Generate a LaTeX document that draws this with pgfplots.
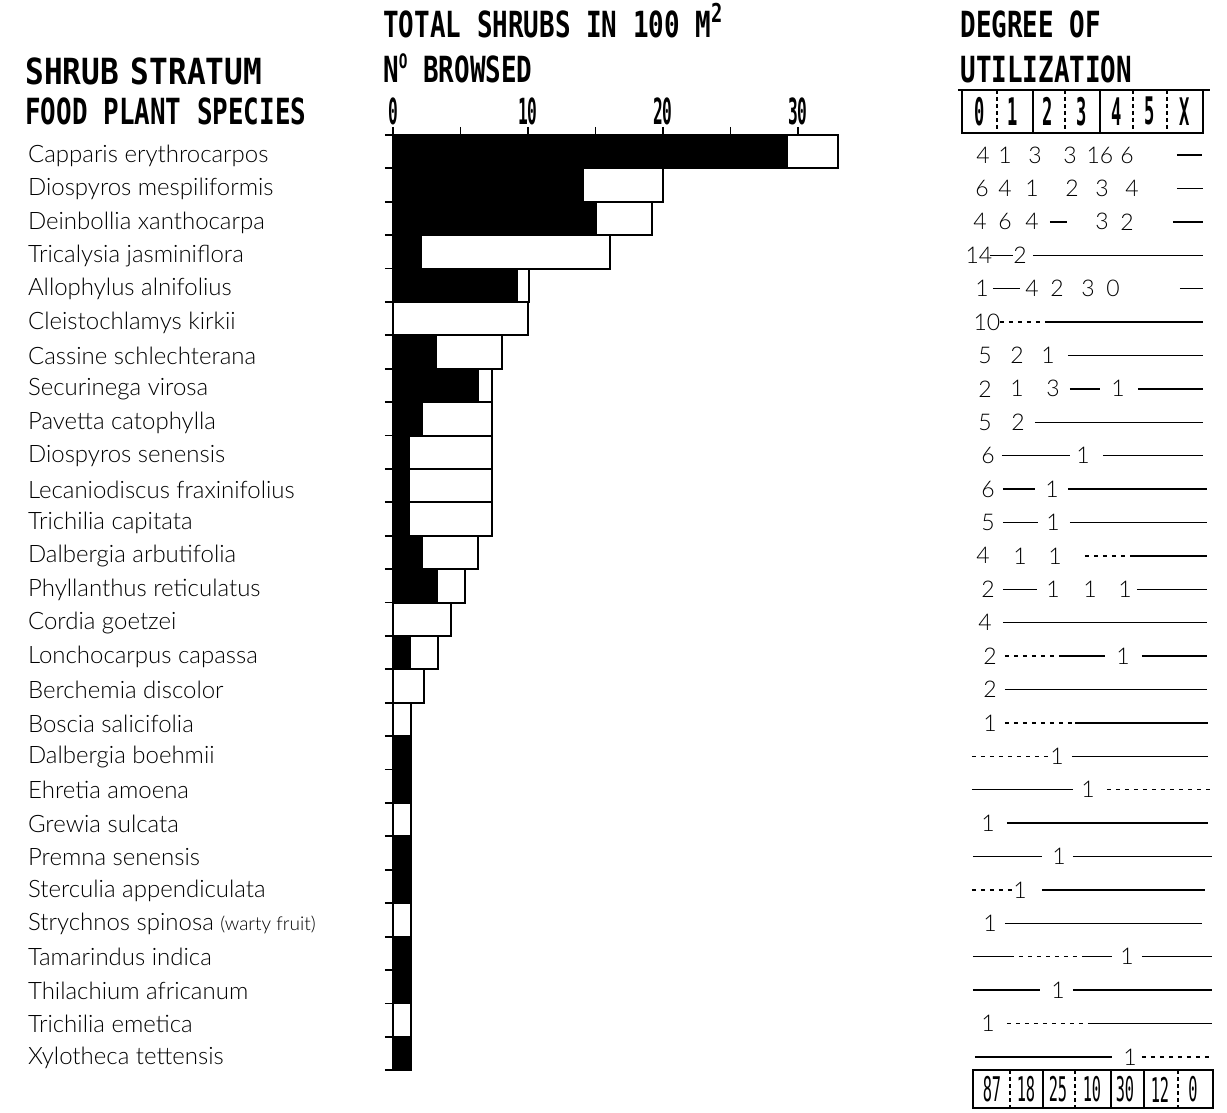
\documentclass[border=0pt]{standalone}
\usepackage{graphicx}
\usepackage{pgfplots}
\pgfplotsset{compat=1.18}
\usepackage{fontspec}
\setmainfont{Lato Light}
\newfontfamily\hdr[FakeStretch=0.72]{DejaVu Sans Mono}
\newfontfamily\nrw[FakeStretch=0.45]{DejaVu Sans Mono}
\newfontfamily\spf{Lato Light}
% table entry: x in pixels, row index, text
\newcommand\T[3]{\node[tn] at (axis cs:{(#1-393)/13.5},{28.9-#2}) {#3};}
% title: x pixel, baseline pixel, text
\newcommand\TL[3]{\node[anchor=base west, inner sep=0pt, font=\hdr\bfseries\fontsize{18}{18}\selectfont] at (axis cs:{(#1-393)/13.5},{28.5-(#2-135)/33.4}) {#3};}
% vertical rule: style, x pixel, y1, y2
\newcommand\VR[4]{\draw[#1] (axis cs:{(#2-393)/13.5},#3) -- (axis cs:{(#2-393)/13.5},#4);}
% header / total digits: font, x pixel, y, text
\newcommand\HD[4]{\node[font=#1, inner sep=0pt] at (axis cs:{(#2-393)/13.5},#3) {#4};}
\begin{document}
\begin{tikzpicture}[tn/.style={font=\spf\fontsize{11.5}{11.5}\selectfont, inner sep=0pt, anchor=center}]
\begin{axis}[
  scale only axis, width=202.5pt, height=467.6pt,
  xmin=0, xmax=30, ymin=0.5, ymax=28.5,
  axis x line*=top, axis y line*=left,
  axis line style={-, line width=1pt},
  xtick={0,5,...,30}, xticklabels={0,,10,,20,,30},
  ytick={0.5,1.5,...,28.5},
  yticklabels={Xylotheca tettensis, Trichilia emetica, Thilachium africanum, Tamarindus indica,
    Strychnos spinosa {\fontsize{9.5}{9.5}\selectfont(warty fruit)}, Sterculia appendiculata, Premna senensis,
    Grewia sulcata, Ehretia amoena, Dalbergia boehmii, Boscia salicifolia, Berchemia discolor,
    Lonchocarpus capassa, Cordia goetzei, Phyllanthus reticulatus, Dalbergia arbutifolia,
    Trichilia capitata, Lecaniodiscus fraxinifolius, Diospyros senensis, Pavetta catophylla,
    Securinega virosa, Cassine schlechterana, Cleistochlamys kirkii, Allophylus alnifolius,
    Tricalysia jasminiflora, Deinbollia xanthocarpa, Diospyros mespiliformis, Capparis erythrocarpos, {}},
  tick align=outside, major tick length=4pt,
  tick style={black, line width=0.9pt},
  xticklabel style={font=\nrw\bfseries\fontsize{18}{18}\selectfont, inner sep=1pt},
  yticklabel style={font=\spf\fontsize{12}{14}\selectfont, anchor=west, xshift=-182pt, yshift=6.4pt},
  clip=false,
  unbounded coords=jump,
]
% page frame (same proportions as the reference)
\path (axis cs:{-393/13.5},{28.5+135/33.4}) rectangle (axis cs:{(1227-393)/13.5},{28.5-977/33.4});
% titles
\TL{25}{85}{\scalebox{1.2}[1]{SHRUB\hspace{5pt}STRATUM}}
\TL{25}{125}{FOOD PLANT SPECIES}
\TL{383}{38}{TOTAL SHRUBS IN 100 M\raisebox{0.42em}{\fontsize{13}{13}\selectfont 2}}
\TL{383}{83}{N\raisebox{0.4em}{\fontsize{10}{10}\selectfont O} BROWSED}
\TL{960}{38}{DEGREE OF}
\TL{960}{83}{UTILIZATION}
% total shrubs
\addplot[xbar, bar width=1, bar shift=0pt, fill=white, draw=black, line width=1pt] table {
x y
33.0 28
20.0 27
19.2 26
16.1 25
10.1 24
10.0 23
8.1 22
7.3 21
7.3 20
7.3 19
7.3 18
7.3 17
6.3 16
5.3 15
4.3 14
3.3 13
2.3 12
1.3 11
1.3 10
1.3 9
1.3 8
1.3 7
1.3 6
1.3 5
1.3 4
1.3 3
1.3 2
1.3 1
};
% number browsed
\addplot[xbar, bar width=1, bar shift=0pt, fill=black, draw=black, line width=0.6pt] table {
x y
29.2 28
14.1 27
15.1 26
2.1 25
9.2 24
3.2 22
6.3 21
2.2 20
1.2 19
1.2 18
1.2 17
2.2 16
3.3 15
1.3 13
1.3 10
1.3 9
1.3 7
1.3 6
1.3 4
1.3 3
1.3 1
};
% utilization table: solid rules for empty cells
\addplot[black, line width=0.7pt, mark=none] table[x expr={(\thisrow{x}-393)/13.5}, y=y] {
x y
1177 27.9
1202 27.9
0 nan
1177 26.9
1203 26.9
0 nan
1050 25.9
1067 25.9
0 nan
1173 25.9
1203 25.9
0 nan
990 24.9
1013 24.9
0 nan
1033 24.9
1203 24.9
0 nan
993 23.9
1020 23.9
0 nan
1180 23.9
1203 23.9
0 nan
1048 22.9
1203 22.9
0 nan
1068 21.9
1203 21.9
0 nan
1070 20.9
1100 20.9
0 nan
1138 20.9
1203 20.9
0 nan
1035 19.9
1203 19.9
0 nan
1002 18.9
1070 18.9
0 nan
1103 18.9
1203 18.9
0 nan
1003 17.9
1035 17.9
0 nan
1068 17.9
1207 17.9
0 nan
1003 16.9
1038 16.9
0 nan
1070 16.9
1207 16.9
0 nan
1130 15.9
1207 15.9
0 nan
1003 14.9
1037 14.9
0 nan
1137 14.9
1207 14.9
0 nan
1003 13.9
1207 13.9
0 nan
1060 12.9
1105 12.9
0 nan
1142 12.9
1207 12.9
0 nan
1005 11.9
1207 11.9
0 nan
1075 10.9
1208 10.9
0 nan
1072 9.9
1208 9.9
0 nan
972 8.9
1073 8.9
0 nan
1007 7.9
1208 7.9
0 nan
973 6.9
1042 6.9
0 nan
1073 6.9
1212 6.9
0 nan
1042 5.9
1205 5.9
0 nan
1005 4.9
1202 4.9
0 nan
973 3.9
1010 3.9
0 nan
1085 3.9
1112 3.9
0 nan
1142 3.9
1212 3.9
0 nan
973 2.9
1040 2.9
0 nan
1073 2.9
1212 2.9
0 nan
1090 1.9
1212 1.9
0 nan
975 0.9
1112 0.9
};
% dotted parts of the rules
\addplot[black, line width=0.7pt, mark=none, dash pattern=on 2pt off 2.5pt] table[x expr={(\thisrow{x}-393)/13.5}, y=y] {
x y
1000 22.9
1048 22.9
0 nan
1085 15.9
1130 15.9
0 nan
1005 12.9
1060 12.9
0 nan
1005 10.9
1075 10.9
0 nan
972 9.9
1050 9.9
0 nan
1107 8.9
1212 8.9
0 nan
972 5.9
1012 5.9
0 nan
1010 3.9
1085 3.9
0 nan
1007 1.9
1090 1.9
0 nan
1142 0.9
1212 0.9
};
% row entries
\T{983}{1}{4}\T{1005}{1}{1}\T{1035}{1}{3}\T{1070}{1}{3}\T{1100}{1}{16}\T{1127}{1}{6}
\T{982}{2}{6}\T{1005}{2}{4}\T{1032}{2}{1}\T{1072}{2}{2}\T{1102}{2}{3}\T{1132}{2}{4}
\T{980}{3}{4}\T{1005}{3}{6}\T{1032}{3}{4}\T{1102}{3}{3}\T{1127}{3}{2}
\T{979}{4}{14}\T{1020}{4}{2}
\T{982}{5}{1}\T{1032}{5}{4}\T{1057}{5}{2}\T{1088}{5}{3}\T{1113}{5}{0}
\T{987}{6}{10}
\T{985}{7}{5}\T{1017}{7}{2}\T{1048}{7}{1}
\T{985}{8}{2}\T{1017}{8}{1}\T{1053}{8}{3}\T{1118}{8}{1}
\T{985}{9}{5}\T{1018}{9}{2}
\T{988}{10}{6}\T{1083}{10}{1}
\T{988}{11}{6}\T{1052}{11}{1}
\T{988}{12}{5}\T{1053}{12}{1}
\T{983}{13}{4}\T{1020}{13}{1}\T{1055}{13}{1}
\T{988}{14}{2}\T{1053}{14}{1}\T{1090}{14}{1}\T{1125}{14}{1}
\T{985}{15}{4}
\T{990}{16}{2}\T{1123}{16}{1}
\T{990}{17}{2}
\T{990}{18}{1}
\T{1057}{19}{1}
\T{1088}{20}{1}
\T{988}{21}{1}
\T{1059}{22}{1}
\T{1020}{23}{1}
\T{990}{24}{1}
\T{1127}{25}{1}
\T{1058}{26}{1}
\T{988}{27}{1}
\T{1130}{28}{1}
% header box of the table
\draw[line width=0.8pt] (axis cs:{(958-393)/13.5},29.85) -- (axis cs:{(1210-393)/13.5},29.85);
\draw[line width=0.8pt] (axis cs:{(962-393)/13.5},29.85) rectangle (axis cs:{(1203-393)/13.5},28.56);
\VR{line width=0.8pt}{1033}{29.85}{28.56}
\VR{line width=0.8pt}{1100}{29.85}{28.56}
\VR{line width=0.8pt, dash pattern=on 2pt off 1.5pt}{997}{29.85}{28.56}
\VR{line width=0.8pt, dash pattern=on 2pt off 1.5pt}{1065}{29.85}{28.56}
\VR{line width=0.8pt, dash pattern=on 2pt off 1.5pt}{1133}{29.85}{28.56}
\VR{line width=0.8pt, dash pattern=on 2pt off 1.5pt}{1167}{29.85}{28.56}
\HD{\nrw\bfseries\fontsize{19}{19}\selectfont}{980}{29.21}{0}
\HD{\nrw\bfseries\fontsize{19}{19}\selectfont}{1013}{29.21}{1}
\HD{\nrw\bfseries\fontsize{19}{19}\selectfont}{1048}{29.21}{2}
\HD{\nrw\bfseries\fontsize{19}{19}\selectfont}{1082}{29.21}{3}
\HD{\nrw\bfseries\fontsize{19}{19}\selectfont}{1117}{29.21}{4}
\HD{\nrw\bfseries\fontsize{19}{19}\selectfont}{1150}{29.21}{5}
\HD{\nrw\bfseries\fontsize{19}{19}\selectfont}{1185}{29.21}{X}
% totals box of the table
\draw[line width=0.8pt] (axis cs:{(973-393)/13.5},0.5) rectangle (axis cs:{(1213-393)/13.5},-0.64);
\VR{line width=0.8pt}{1043}{0.5}{-0.64}
\VR{line width=0.8pt}{1111}{0.5}{-0.64}
\VR{line width=0.8pt}{1144}{0.5}{-0.64}
\VR{line width=0.8pt, dash pattern=on 2pt off 1.5pt}{1010}{0.5}{-0.64}
\VR{line width=0.8pt, dash pattern=on 2pt off 1.5pt}{1075}{0.5}{-0.64}
\VR{line width=0.8pt, dash pattern=on 2pt off 1.5pt}{1178}{0.5}{-0.64}
\HD{\nrw\fontsize{17}{17}\selectfont}{992}{-0.08}{87}
\HD{\nrw\fontsize{17}{17}\selectfont}{1026}{-0.08}{18}
\HD{\nrw\fontsize{17}{17}\selectfont}{1058}{-0.08}{25}
\HD{\nrw\fontsize{17}{17}\selectfont}{1092}{-0.08}{10}
\HD{\nrw\fontsize{17}{17}\selectfont}{1125}{-0.08}{30}
\HD{\nrw\fontsize{17}{17}\selectfont}{1160}{-0.08}{12}
\HD{\nrw\fontsize{17}{17}\selectfont}{1193}{-0.08}{0}
\end{axis}
\end{tikzpicture}
\end{document}
